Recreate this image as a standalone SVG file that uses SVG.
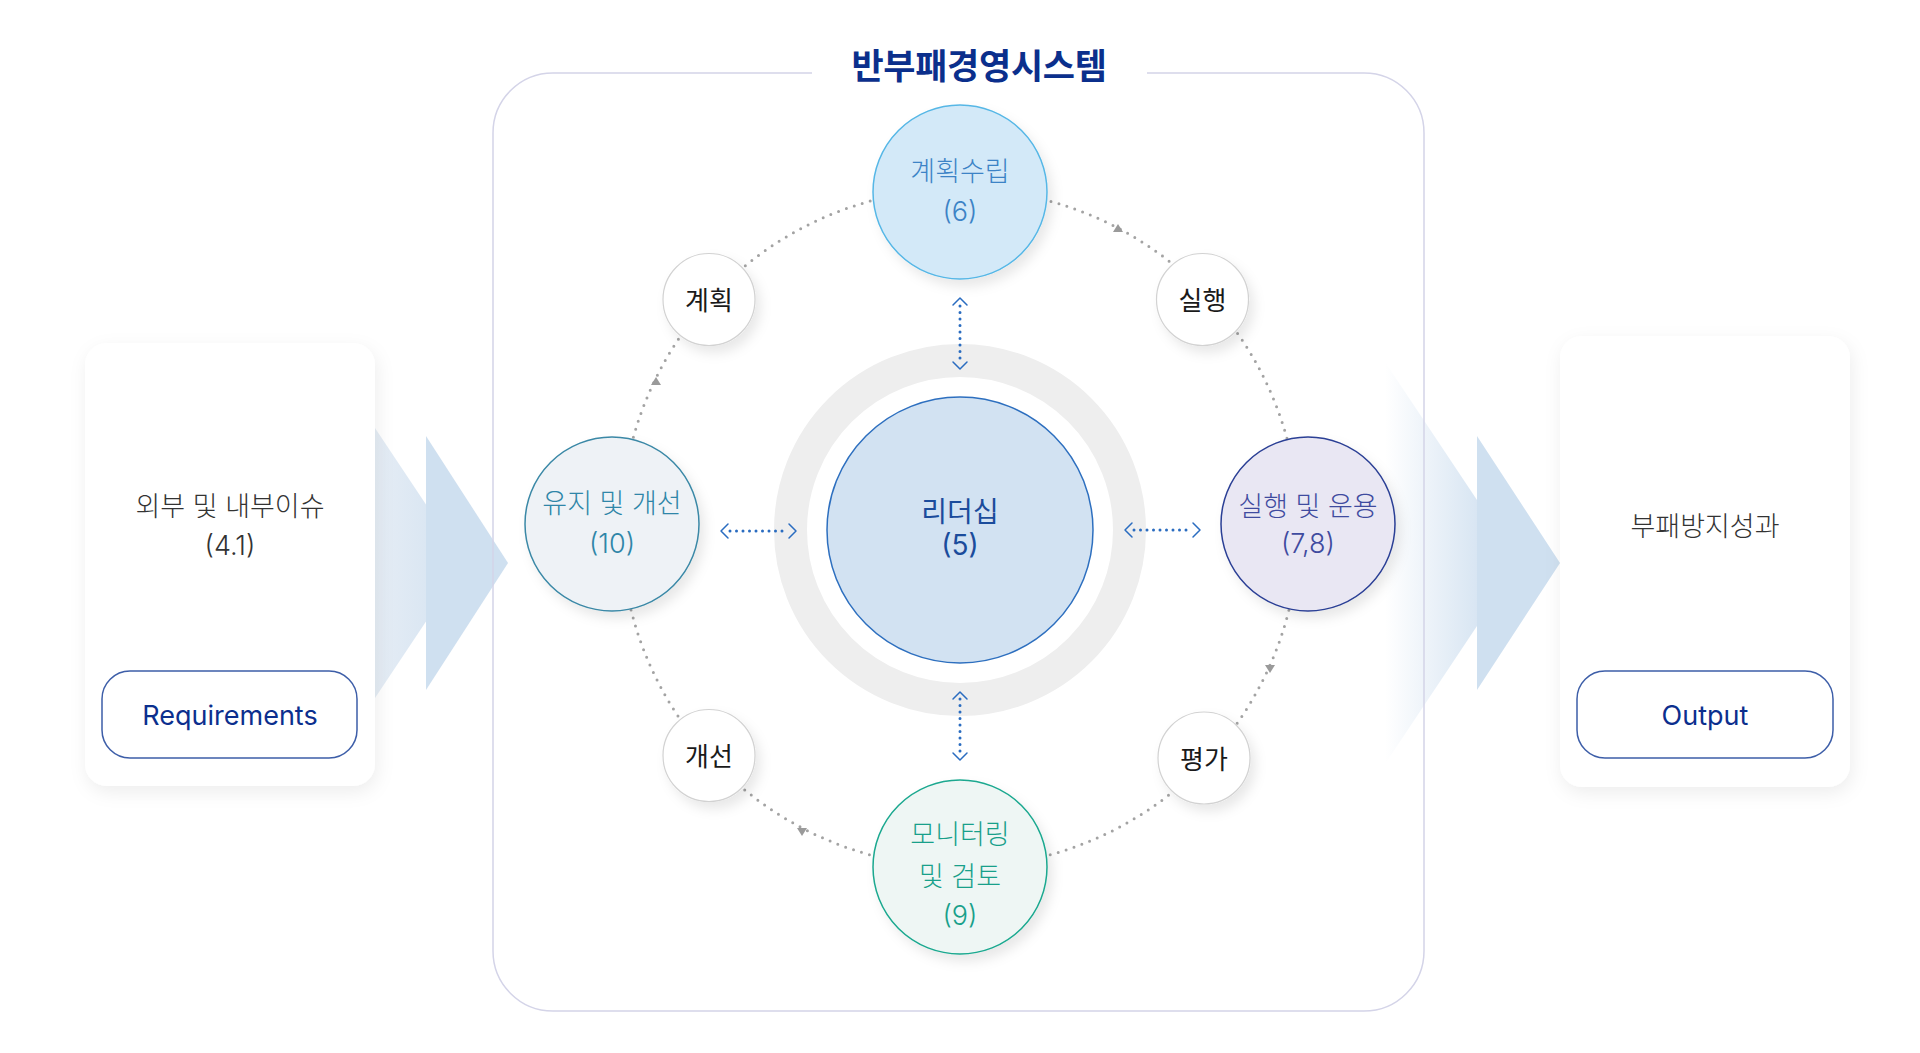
<svg xmlns="http://www.w3.org/2000/svg" width="1920" height="1053" viewBox="0 0 1920 1053">
<style>
  text { font-family: Inter, "Noto Sans CJK KR", "Noto Sans", sans-serif; text-anchor: middle; }
  .title { font-size: 35px; font-weight: 700; fill: #0b2f8c; letter-spacing: -0.3px; }
  .card { fill: #ffffff; }
  .btn { fill: #ffffff; stroke: #3d5ea8; stroke-width: 1.5; }
  .btntxt { font-size: 27px; font-weight: 400; fill: #0c2f8e; }
  .cardtxt { font-size: 27px; font-weight: 300; fill: #333333; }
  .big { font-size: 27px; font-weight: 300; }
  .small { fill: #ffffff; stroke: #d2d2d2; stroke-width: 1.2; }
  .smalltxt { font-size: 26px; font-weight: 400; fill: #1a1a1a; }
  .orbit { fill: none; stroke: #a3a3a3; stroke-width: 3; stroke-linecap: round; stroke-dasharray: 0 8.32; }
  .bdots { fill: none; stroke: #2a6cc0; stroke-width: 3; stroke-linecap: round; stroke-dasharray: 0 6.5; }
  .chev { fill: none; stroke: #2a6cc0; stroke-width: 1.5; stroke-linecap: round; stroke-linejoin: round; }
  .tri { fill: #9a9a9a; }
</style>
<defs>
  <filter id="shCard" x="-20%" y="-20%" width="140%" height="140%">
    <feDropShadow dx="2" dy="6" stdDeviation="9" flood-color="#000" flood-opacity="0.07"/>
  </filter>
  <filter id="shCirc" x="-30%" y="-30%" width="160%" height="160%">
    <feDropShadow dx="5" dy="7" stdDeviation="6" flood-color="#000" flood-opacity="0.09"/>
  </filter>
  <linearGradient id="gL" x1="331" y1="0" x2="465" y2="0" gradientUnits="userSpaceOnUse">
    <stop offset="0" stop-color="#eef2f7"/>
    <stop offset="1" stop-color="#d3e2f1"/>
  </linearGradient>
  <linearGradient id="gR" x1="1385" y1="0" x2="1490" y2="0" gradientUnits="userSpaceOnUse">
    <stop offset="0" stop-color="#d3e2f1" stop-opacity="0"/>
    <stop offset="1" stop-color="#d3e2f1" stop-opacity="1"/>
  </linearGradient>
</defs>
<rect width="1920" height="1053" fill="#ffffff"/>

<!-- flow arrows -->
<g id="flow-left">
  <polygon points="331,362 465,563 331,764" fill="url(#gL)"/>
  <polygon points="426,436 508,563 426,690" fill="#cfe0f0"/>
</g>
<g id="flow-right">
  <polygon points="1385,362 1519,563 1385,764" fill="url(#gR)"/>
  <polygon points="1477,436 1560,563 1477,690" fill="#cfe0f0"/>
</g>

<!-- system frame -->
<g id="system">
  <path d="M812,73 H553 A60,60 0 0 0 493,133 V951 A60,60 0 0 0 553,1011 H1364 A60,60 0 0 0 1424,951 V133 A60,60 0 0 0 1364,73 H1147" fill="none" stroke="#d4d4e8" stroke-width="1.5"/>
  <text class="title" x="979" y="79">반부패경영시스템</text>
</g>

<!-- cards -->
<g id="input-card">
  <rect class="card" x="85" y="343" width="290" height="443" rx="22" filter="url(#shCard)"/>
  <text class="cardtxt" x="230" y="516">외부 및 내부이슈</text>
  <text class="cardtxt" x="230" y="555">(4.1)</text>
  <rect class="btn" x="102" y="671" width="255" height="87" rx="28"/>
  <text class="btntxt" x="230" y="725">Requirements</text>
</g>
<g id="output-card">
  <rect class="card" x="1560" y="336" width="290" height="451" rx="22" filter="url(#shCard)"/>
  <text class="cardtxt" x="1705" y="536">부패방지성과</text>
  <rect class="btn" x="1577" y="671" width="256" height="87" rx="28"/>
  <text class="btntxt" x="1705" y="725">Output</text>
</g>

<!-- center -->
<g id="leadership">
  <circle cx="960" cy="530" r="169.5" fill="none" stroke="#eeeeee" stroke-width="33"/>
  <circle cx="960" cy="530" r="133" fill="#d2e2f2" stroke="#2d6fbf" stroke-width="1.5"/>
  <text class="big" x="960" y="522" style="font-size:28px; font-weight:400" fill="#1b4c9c">리더십</text>
  <text class="big" x="960" y="555" style="font-size:28px; font-weight:400" fill="#1b4c9c">(5)</text>
</g>

<!-- connectors -->
<g id="connectors">
  <circle class="orbit" cx="960" cy="528" r="339"/>
  <polygon class="tri" points="1118,224 1123,232 1113,232"/>
  <polygon class="tri" points="656,377 661,385 651,385"/>
  <polygon class="tri" points="1270,673 1275,665 1265,665"/>
  <polygon class="tri" points="802,836 807,828 797,828"/>
  <!-- top -->
  <line class="bdots" x1="960" y1="306" x2="960" y2="362"/>
  <polyline class="chev" points="953,305 960,298 967,305"/>
  <polyline class="chev" points="953,362 960,369 967,362"/>
  <!-- bottom -->
  <line class="bdots" x1="960" y1="699" x2="960" y2="753"/>
  <polyline class="chev" points="953,699 960,692 967,699"/>
  <polyline class="chev" points="953,753 960,760 967,753"/>
  <!-- left -->
  <line class="bdots" x1="730" y1="531" x2="788" y2="531"/>
  <polyline class="chev" points="728,524 721,531 728,538"/>
  <polyline class="chev" points="789,524 796,531 789,538"/>
  <!-- right -->
  <line class="bdots" x1="1134" y1="530" x2="1192" y2="530"/>
  <polyline class="chev" points="1132,523 1125,530 1132,537"/>
  <polyline class="chev" points="1193,523 1200,530 1193,537"/>
</g>

<g id="plan">
  <circle cx="960" cy="192" r="87" fill="#d3e9f8" stroke="#56b7e6" stroke-width="1.5" filter="url(#shCirc)"/>
  <text class="big" x="960" y="181" fill="#3c83c6">계획수립</text>
  <text class="big" x="960" y="221" fill="#3c83c6">(6)</text>
</g>
<g id="act">
  <circle cx="612" cy="524" r="87" fill="#eef2f6" stroke="#3a88a6" stroke-width="1.5" filter="url(#shCirc)"/>
  <text class="big" x="612" y="513" fill="#2f86a8">유지 및 개선</text>
  <text class="big" x="612" y="553" fill="#2f86a8">(10)</text>
</g>
<g id="do">
  <circle cx="1308" cy="524" r="87" fill="#e9e7f3" stroke="#2b3f95" stroke-width="1.5" filter="url(#shCirc)"/>
  <text class="big" x="1308" y="516" fill="#3f4b9f">실행 및 운용</text>
  <text class="big" x="1308" y="553" fill="#3f4b9f">(7,8)</text>
</g>
<g id="check">
  <circle cx="960" cy="867" r="87" fill="#eef6f4" stroke="#1aa88f" stroke-width="1.5" filter="url(#shCirc)"/>
  <text class="big" x="960" y="844" fill="#18a08a">모니터링</text>
  <text class="big" x="960" y="886" fill="#18a08a">및 검토</text>
  <text class="big" x="960" y="925" fill="#18a08a">(9)</text>
</g>

<g id="step-plan">
  <circle class="small" cx="709" cy="299.5" r="46" filter="url(#shCirc)"/>
  <text class="smalltxt" x="709" y="310">계획</text>
</g>
<g id="step-do">
  <circle class="small" cx="1202.5" cy="299.5" r="46" filter="url(#shCirc)"/>
  <text class="smalltxt" x="1202.5" y="310">실행</text>
</g>
<g id="step-improve">
  <circle class="small" cx="709" cy="755.5" r="46" filter="url(#shCirc)"/>
  <text class="smalltxt" x="709" y="766">개선</text>
</g>
<g id="step-evaluate">
  <circle class="small" cx="1204" cy="758" r="46" filter="url(#shCirc)"/>
  <text class="smalltxt" x="1204" y="769">평가</text>
</g>
</svg>
